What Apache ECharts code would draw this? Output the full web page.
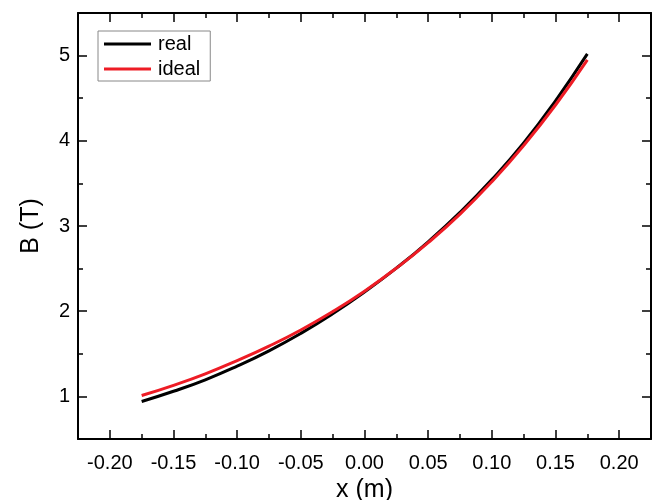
<!DOCTYPE html>
<html>
<head>
<meta charset="utf-8">
<script src="https://cdn.jsdelivr.net/npm/echarts@6/dist/echarts.min.js"></script>
<style>
  html, body { margin: 0; padding: 0; background: #fff; }
  #chart { width: 656px; height: 500px; }
</style>
</head>
<body>
<div id="chart"></div>
<script>
// values
const xValues = [-0.175, -0.15, -0.125, -0.10, -0.075, -0.05, -0.025, 0, 0.025, 0.05, 0.075, 0.10, 0.125, 0.15, 0.175]
const realB = [0.94, 1.06, 1.195, 1.355, 1.535, 1.74, 1.97, 2.225, 2.505, 2.815, 3.16, 3.545, 3.975, 4.47, 5.02]
const idealB = [1.01, 1.13, 1.265, 1.42, 1.59, 1.78, 1.995, 2.235, 2.505, 2.805, 3.14, 3.52, 3.945, 4.42, 4.95]

const xMajorTicks = [-0.20, -0.15, -0.10, -0.05, 0, 0.05, 0.10, 0.15, 0.20]
const xMinorTicks = [-0.175, -0.125, -0.075, -0.025, 0.025, 0.075, 0.125, 0.175]
const yMajorTicks = [1, 2, 3, 4, 5]
const yMinorTicks = [1.5, 2.5, 3.5, 4.5]

const font = 'Liberation Sans, Arial, sans-serif'
const chart = echarts.init(document.getElementById('chart'))

// one axis per tick set, so major and minor ticks can have their own length
function xAxis (pos, ticks, len, labels, line) {
  return {
    type: 'value',
    position: pos,
    min: -0.225,
    max: 0.225,
    splitLine: { show: false },
    axisLine: { show: line, onZero: false, lineStyle: { color: '#000', width: 2 } },
    axisTick: { show: true, inside: true, length: len, customValues: ticks, lineStyle: { color: '#000', width: 1.5 } },
    axisLabel: labels
      ? { show: true, customValues: ticks, margin: 14, color: '#000', fontSize: 20, fontFamily: font, formatter: v => v.toFixed(2) }
      : { show: false }
  }
}
function yAxis (pos, ticks, len, labels, line) {
  return {
    type: 'value',
    position: pos,
    min: 0.5,
    max: 5.5,
    splitLine: { show: false },
    axisLine: { show: line, onZero: false, lineStyle: { color: '#000', width: 2 } },
    axisTick: { show: true, inside: true, length: len, customValues: ticks, lineStyle: { color: '#000', width: 1.5 } },
    axisLabel: labels
      ? { show: true, customValues: ticks, margin: 8, color: '#000', fontSize: 20, fontFamily: font }
      : { show: false }
  }
}

const xs = [
  xAxis('bottom', xMajorTicks, 9, true, true),
  xAxis('bottom', xMinorTicks, 5, false, false),
  xAxis('top', xMajorTicks, 9, false, true),
  xAxis('top', xMinorTicks, 5, false, false)
]
xs[0].name = 'x (m)'
xs[0].nameLocation = 'middle'
xs[0].nameGap = 35
xs[0].nameTextStyle = { color: '#000', fontSize: 25, fontFamily: font }

const ys = [
  yAxis('left', yMajorTicks, 9, true, true),
  yAxis('left', yMinorTicks, 5, false, false),
  yAxis('right', yMajorTicks, 9, false, true),
  yAxis('right', yMinorTicks, 5, false, false)
]
ys[0].name = 'B (T)'
ys[0].nameLocation = 'middle'
ys[0].nameGap = 34
ys[0].nameTextStyle = { color: '#000', fontSize: 25, fontFamily: font }

const options = {
  animation: false,
  grid: { left: 78, right: 5, top: 13, bottom: 61, containLabel: false, outerBoundsMode: 'none' },
  legend: {
    left: 98,
    top: 31,
    orient: 'vertical',
    padding: [3, 10, 2, 6],
    itemGap: 5,
    itemWidth: 47,
    itemHeight: 3,
    borderColor: '#888',
    borderWidth: 1,
    icon: 'rect',
    textStyle: { color: '#000', fontSize: 20, fontFamily: font, lineHeight: 20, padding: [0, 0, 0, 2] },
    data: ['real', 'ideal']
  },
  xAxis: xs,
  yAxis: ys,
  series: [
    {
      name: 'real',
      type: 'line',
      smooth: true,
      showSymbol: false,
      color: '#000',
      lineStyle: { width: 3, color: '#000' },
      data: xValues.map((x, i) => [x, realB[i]])
    },
    {
      name: 'ideal',
      type: 'line',
      smooth: true,
      showSymbol: false,
      color: '#ee1c25',
      lineStyle: { width: 3, color: '#ee1c25' },
      data: xValues.map((x, i) => [x, idealB[i]])
    }
  ]
}
chart.setOption(options)
</script>
</body>
</html>
